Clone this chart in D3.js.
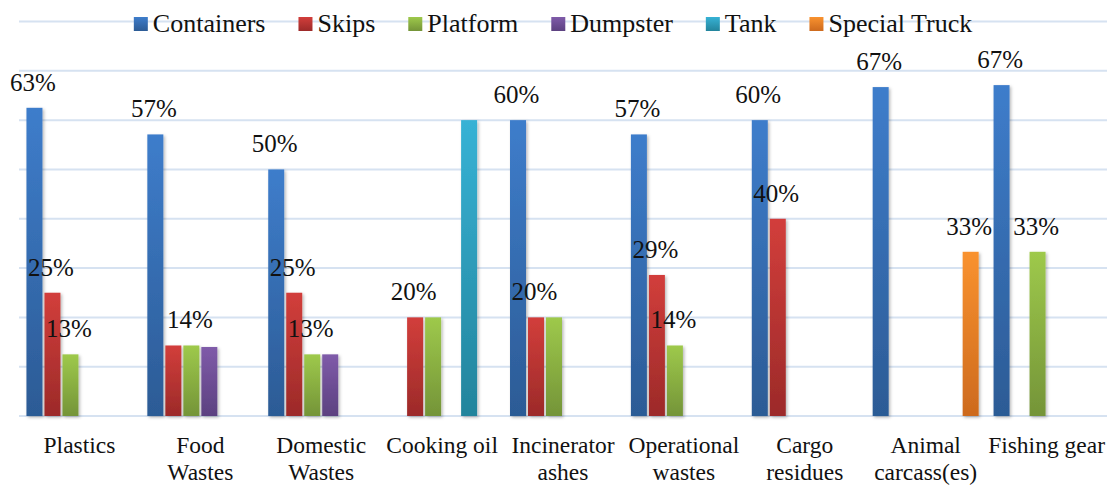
<!DOCTYPE html>
<html>
<head>
<meta charset="utf-8">
<script src="https://cdn.jsdelivr.net/npm/d3@7/dist/d3.min.js"></script>
<style>
  html, body { margin: 0; padding: 0; background: #ffffff; }
  text { font-family: 'Liberation Serif', 'Times New Roman', 'DejaVu Serif', serif; }
</style>
</head>
<body>
<svg id="chart" width="1112" height="485"></svg>
<script>
// ---- data ----
const categories = ["Plastics", "Food\nWastes", "Domestic\nWastes", "Cooking oil", "Incinerator\nashes",
  "Operational\nwastes", "Cargo\nresidues", "Animal\ncarcass(es)", "Fishing gear"];
const seriesNames = ["Containers", "Skips", "Platform", "Dumpster", "Tank", "Special Truck"];
const containers   = [62.5, 57.1, 50, null, 60, 57.1, 60, 66.7, 67.1];
const skips        = [25, 14.3, 25, 20, 20, 28.6, 40, null, null];
const platform     = [12.5, 14.3, 12.5, 20, 20, 14.3, null, null, 33.3];
const dumpster     = [null, 14.0, 12.5, null, null, null, null, null, null];
const tank         = [null, null, null, 60, null, null, null, null, null];
const specialTruck = [null, null, null, null, null, null, null, 33.3, null];
const yTicks = [0, 10, 20, 30, 40, 50, 60, 70, 80];
// labels that are not shown in the original (series | category index)
const hiddenLabels = ["Skips|1", "Dumpster|1", "Dumpster|2", "Platform|3", "Tank|3", "Platform|4"];

const seriesValues = [containers, skips, platform, dumpster, tank, specialTruck];
const colors = [
  ["#3e7dcb", "#2c5b95"],
  ["#d23e3b", "#9c2a29"],
  ["#9ec94b", "#749438"],
  ["#7f5ba9", "#5c4180"],
  ["#37b2d5", "#23849c"],
  ["#f9922f", "#cd6a1e"]
];

(function () {
const FONT = "'Liberation Serif', 'Times New Roman', 'DejaVu Serif', serif";
const svg = d3.select("#chart");
const defs = svg.append("defs");
colors.forEach((c, i) => {
  const g = defs.append("linearGradient").attr("id", "grad" + i)
    .attr("x1", 0).attr("y1", 0).attr("x2", 0).attr("y2", 1);
  g.append("stop").attr("offset", "0%").attr("stop-color", c[0]);
  g.append("stop").attr("offset", "100%").attr("stop-color", c[1]);
});
const shadow = defs.append("filter").attr("id", "shadow")
  .attr("x", "-50%").attr("y", "-5%").attr("width", "200%").attr("height", "110%");
shadow.append("feDropShadow").attr("dx", 1.5).attr("dy", 1.5).attr("stdDeviation", 1.6)
  .attr("flood-color", "#000").attr("flood-opacity", 0.28);

const mLeft = 19, mRight = 1107, mTop = 21.5, mBottom = 416;

const x0 = d3.scaleBand().domain(categories).range([mLeft, mRight]).paddingInner(0).paddingOuter(0);
const x1 = d3.scaleBand().domain(seriesNames).range([0, x0.bandwidth()])
  .paddingInner(0.111).paddingOuter(0.414);
const y = d3.scaleLinear().domain([0, 80]).range([mBottom, mTop]);

// gridlines
svg.append("g").selectAll("line").data(yTicks).join("line")
  .attr("x1", mLeft).attr("x2", mRight)
  .attr("y1", d => y(d)).attr("y2", d => y(d))
  .attr("stroke", "#d6e2f1").attr("stroke-width", 2);

// bars
const barData = [];
seriesNames.forEach((s, si) => {
  categories.forEach((c, ci) => {
    const v = seriesValues[si][ci];
    if (v != null) barData.push({ s, si, c, ci, v });
  });
});

svg.append("g").selectAll("rect").data(barData).join("rect")
  .attr("x", d => x0(d.c) + x1(d.s))
  .attr("y", d => y(d.v))
  .attr("width", x1.bandwidth())
  .attr("height", d => y(0) - y(d.v))
  .attr("fill", d => `url(#grad${d.si})`)
  .attr("filter", "url(#shadow)");

// data labels
svg.append("g").selectAll("text")
  .data(barData.filter(d => !hiddenLabels.includes(d.s + "|" + d.ci)))
  .join("text")
  .attr("x", d => x0(d.c) + x1(d.s) + x1.bandwidth() / 2 - 1.5)
  .attr("y", d => y(d.v) - 17)
  .attr("text-anchor", "middle")
  .attr("font-family", FONT)
  .attr("font-size", 25)
  .attr("fill", "#111")
  .text(d => Math.round(d.v) + "%");

// x axis labels
const xl = svg.append("g").selectAll("text").data(categories).join("text")
  .attr("x", d => x0(d) + x0.bandwidth() / 2)
  .attr("y", 453)
  .attr("text-anchor", "middle")
  .attr("font-family", FONT)
  .attr("font-size", 23.5)
  .attr("fill", "#111");
xl.each(function(d) {
  const lines = d.split("\n");
  const t = d3.select(this);
  lines.forEach((ln, i) => {
    t.append("tspan").attr("x", x0(d) + x0.bandwidth() / 2).attr("dy", i === 0 ? 0 : 27).text(ln);
  });
});

// legend
const legend = svg.append("g");
let cx = 0;
const gap = 33;
seriesNames.forEach((s, i) => {
  const g = legend.append("g");
  g.append("rect").attr("x", 0).attr("y", 17).attr("width", 14).attr("height", 14)
    .attr("fill", `url(#grad${i})`);
  const t = g.append("text").attr("x", 19).attr("y", 32)
    .attr("font-family", FONT).attr("font-size", 26)
    .attr("fill", "#111").text(s);
  const w = 19 + t.node().getComputedTextLength();
  g.attr("transform", `translate(${cx},0)`);
  cx += w + gap;
});
const total = cx - gap;
legend.attr("transform", `translate(${553 - total / 2},0)`);
})();
</script>
</body>
</html>
